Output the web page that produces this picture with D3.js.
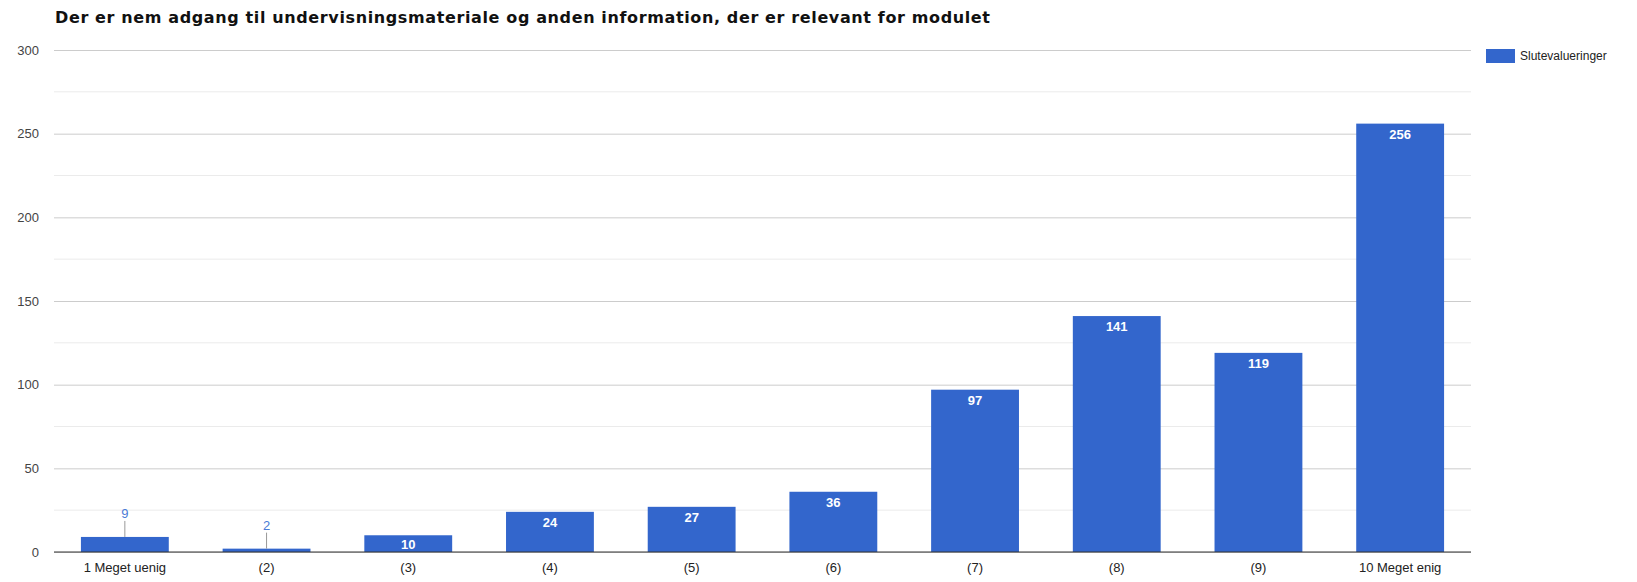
<!DOCTYPE html>
<html>
<head>
<meta charset="utf-8">
<script src="https://cdn.jsdelivr.net/npm/d3@7"></script>
<style>
  body { margin: 0; background: #fff; }
  svg text { font-family: Arial, 'Liberation Sans', sans-serif; }
</style>
</head>
<body>
<div id="chart"></div>
<script>
const title = 'Der er nem adgang til undervisningsmateriale og anden information, der er relevant for modulet'
const seriesName = 'Slutevalueringer'
const categories = ['1 Meget uenig', '(2)', '(3)', '(4)', '(5)', '(6)', '(7)', '(8)', '(9)', '10 Meget enig']
const values = [9, 2, 10, 24, 27, 36, 97, 141, 119, 256]
const yTicks = [0, 50, 100, 150, 200, 250, 300]

const width = 1637
const height = 582
const margin = { top: 50, right: 166, bottom: 30, left: 54 }
const blue = '#3366cc'

let svg = d3.select('#chart')
  .append('svg')
  .attr('width', width)
  .attr('height', height)

let x = d3.scaleBand()
  .domain(categories)
  .range([margin.left, width - margin.right])
  .paddingInner(0.38)
  .paddingOuter(0.19)

let y = d3.scaleLinear()
  .domain([0, 300])
  .range([height - margin.bottom, margin.top])

// minor gridlines
svg.append('g')
  .selectAll('line')
  .data(d3.range(25, 300, 50))
  .join('line')
  .attr('x1', margin.left)
  .attr('x2', width - margin.right)
  .attr('y1', d => y(d))
  .attr('y2', d => y(d))
  .attr('stroke', '#ebebeb')

// major gridlines + labels
let yAxis = svg.append('g')
  .attr('transform', `translate(${margin.left},0)`)
  .call(d3.axisLeft(y).tickValues(yTicks).tickSize(-(width - margin.left - margin.right)).tickPadding(15))

yAxis.select('.domain').remove()
yAxis.selectAll('.tick line').attr('stroke', '#cccccc')
yAxis.selectAll('.tick text')
  .attr('fill', '#444')
  .style('font-size', '13px')

// bars
svg.append('g')
  .selectAll('rect')
  .data(values)
  .join('rect')
  .attr('x', (d, i) => x(categories[i]))
  .attr('y', d => y(d))
  .attr('width', x.bandwidth())
  .attr('height', d => y(0) - y(d))
  .attr('fill', blue)

// value labels: inside for tall enough bars, above with a leader line for small ones
let labels = svg.append('g')
values.forEach(function(d, i) {
  let cx = x(categories[i]) + x.bandwidth() / 2
  let top = y(d)
  if (y(0) - top >= 16) {
    labels.append('text')
      .attr('x', cx)
      .attr('y', top + (y(0) - top < 20 ? 14 : 15))
      .attr('text-anchor', 'middle')
      .attr('fill', '#fff')
      .style('font-size', '13px')
      .style('font-weight', 'bold')
      .text(d)
  } else {
    labels.append('line')
      .attr('x1', cx).attr('x2', cx)
      .attr('y1', top).attr('y2', top - 16)
      .attr('stroke', '#999')
    labels.append('text')
      .attr('x', cx)
      .attr('y', top - 19)
      .attr('text-anchor', 'middle')
      .attr('fill', '#4a7bd6')
      .style('font-size', '13px')
      .text(d)
  }
})

// baseline
svg.append('line')
  .attr('x1', margin.left)
  .attr('x2', width - margin.right)
  .attr('y1', y(0))
  .attr('y2', y(0))
  .attr('stroke', '#333')

// x labels
let xAxis = svg.append('g')
  .attr('transform', `translate(0,${y(0)})`)
  .call(d3.axisBottom(x).tickSize(0).tickPadding(11))
xAxis.select('.domain').remove()
xAxis.selectAll('text')
  .attr('fill', '#222')
  .style('font-size', '13px')

// title
svg.append('text')
  .attr('x', 55)
  .attr('y', 23)
  .attr('fill', '#111')
  .attr('textLength', 935)
  .attr('lengthAdjust', 'spacing')
  .style('font-family', "'DejaVu Sans', Verdana, sans-serif")
  .style('font-size', '16px')
  .style('font-weight', 'bold')
  .text(title)

// legend
let legend = svg.append('g')
  .attr('transform', `translate(${width - margin.right + 15},49)`)
legend.append('rect')
  .attr('width', 29)
  .attr('height', 14)
  .attr('fill', blue)
legend.append('text')
  .attr('x', 34)
  .attr('y', 11)
  .attr('fill', '#222')
  .style('font-size', '12px')
  .text(seriesName)
</script>
</body>
</html>
